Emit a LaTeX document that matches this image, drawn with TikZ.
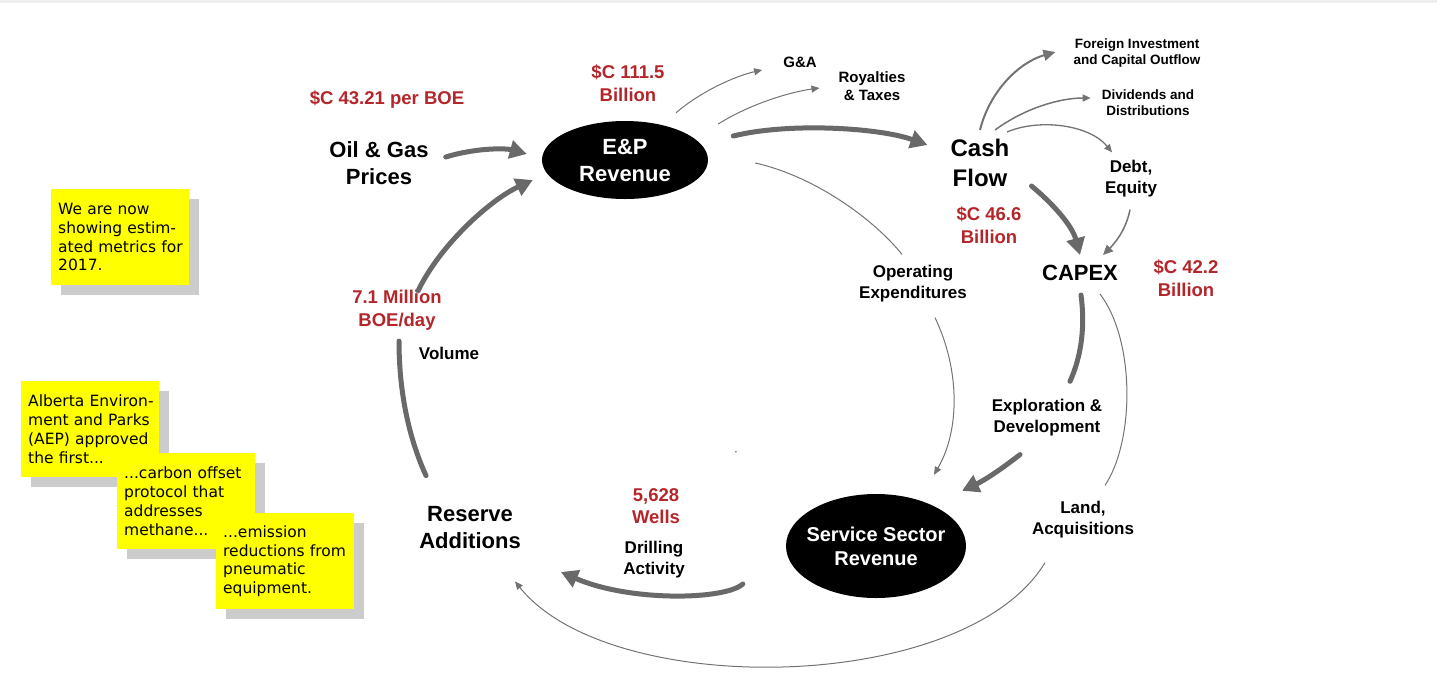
\documentclass[tikz,border=0pt]{standalone}
\usepackage{fontspec}
\setmainfont{Liberation Sans}
\newfontfamily\notefont{DejaVu Sans}
\usepackage{tikz}
\usetikzlibrary{arrows.meta, shapes.geometric, shadows}
\definecolor{flowgray}{RGB}{105,105,105}
\definecolor{leakgray}{RGB}{115,115,115}
\definecolor{valred}{RGB}{180,38,42}
\definecolor{noteyellow}{RGB}{255,255,0}
\definecolor{shadegray}{RGB}{204,204,204}
\definecolor{bandgray}{RGB}{238,238,238}
\tikzset{
  big/.style={font=\bfseries\fontsize{22}{27}\selectfont, align=center, inner sep=1pt},
  lbl/.style={font=\bfseries\fontsize{17}{21}\selectfont, align=center, inner sep=1pt},
  sml/.style={font=\bfseries\fontsize{15}{18}\selectfont, align=center, inner sep=1pt},
  tny/.style={font=\bfseries\fontsize{13.5}{16}\selectfont, align=center, inner sep=1pt},
  val/.style={font=\bfseries\fontsize{18.5}{22.5}\selectfont, text=valred, align=center, inner sep=1pt},
  blob/.style={ellipse, fill=black, text=white, align=center, inner sep=-12pt},
  note/.style={anchor=north west, fill=noteyellow, text width=130pt, inner xsep=4pt,
    minimum height=96pt, align=left, font=\notefont\fontsize{15.5}{18.7}\selectfont,
    drop shadow={shadow xshift=10pt, shadow yshift=-10pt, fill=shadegray, opacity=1}},
  flow/.style={draw=flowgray, line width=5pt, line cap=round, -{Triangle[length=17pt, width=18pt]}},
  flowend/.style={draw=flowgray, line width=5pt, line cap=round},
  leak/.style={draw=leakgray, line width=1pt, -{Triangle[length=8pt, width=7pt]}},
  leakend/.style={draw=leakgray, line width=1pt},
}

\begin{document}
\begin{tikzpicture}[x=1pt, y=1pt]
  \useasboundingbox (0,0) rectangle (1437,-673);
  \fill[bandgray] (0,0) rectangle (1437,-3);

  % notes
  \node[note] (n1) at (51,-189) {\hspace{3pt}We are now\\\hspace{3pt}showing estim-\\\hspace{3pt}ated metrics for\\\hspace{3pt}2017.};
  \node[note] (n2) at (21,-381) {\hspace{3pt}Alberta Environ-\\\hspace{3pt}ment and Parks\\\hspace{3pt}(AEP) approved\\\hspace{3pt}the first...};
  \node[note] (n3) at (117,-453) {\hspace{3pt}...carbon offset\\\hspace{3pt}protocol that\\\hspace{3pt}addresses\\\hspace{3pt}methane...};
  \node[note] (n4) at (216,-513) {\hspace{3pt}...emission\\\hspace{3pt}reductions from\\\hspace{3pt}pneumatic\\\hspace{3pt}equipment.};

  % main cycle
  \node[big] (price) at (379,-163) {Oil \& Gas\\Prices};
  \node[blob, minimum width=166pt, minimum height=78pt, font=\bfseries\fontsize{22}{27}\selectfont] (ep) at (625,-160) {E\&P\\Revenue};
  \node[big, font=\bfseries\fontsize{24}{30}\selectfont] (cf) at (980,-163) {Cash\\Flow};
  \node[big] (capex) at (1080,-273) {CAPEX};
  \node[blob, minimum width=180pt, minimum height=104pt, font=\bfseries\fontsize{20}{24}\selectfont] (svc) at (876,-546) {Service Sector\\Revenue};
  \node[big] (rsv) at (470,-528) {Reserve\\Additions};

  \node[sml] (ga) at (800,-62) {G\&A};
  \node[sml] (roy) at (872,-86) {Royalties\\\& Taxes};
  \node[tny] (fdi) at (1137,-53) {Foreign Investment\\and Capital Outflow};
  \node[tny] (div) at (1148,-103) {Dividends and\\Distributions};
  \node[lbl] (debt) at (1131,-179) {Debt,\\Equity};
  \node[lbl] (opex) at (913,-284) {Operating\\Expenditures};
  \node[lbl] (expl) at (1047,-418) {Exploration \&\\Development};
  \node[lbl] (land) at (1083,-520) {Land,\\Acquisitions};
  \node[lbl] (drill) at (654,-560) {Drilling\\Activity};
  \node[lbl] (vol) at (449,-353) {Volume};
  \node[font=\fontsize{8}{8}\selectfont, inner sep=0pt] (dash) at (736,-453) {-};

  \node[val] (vboe) at (387,-100) {\$C 43.21 per BOE};
  \node[val] (vrev) at (628,-83) {\$C 111.5\\Billion};
  \node[val] (vcf) at (989,-225) {\$C 46.6\\Billion};
  \node[val] (vcap) at (1186,-278) {\$C 42.2\\Billion};
  \node[val] (vwell) at (656,-506) {5,628\\Wells};
  \node[val] (vprod) at (397,-310) {7.1 Million\\BOE/day};

  % heavy flows
  \draw[flow] ([shift={(16,6)}]price.east) .. controls (475,-148) and (505,-148) .. ([shift={(-15,6)}]ep.west);
  \draw[flow] ([shift={(25,24)}]ep.east) .. controls (790,-122) and (880,-128) .. ([shift={(-22,18)}]cf.west);
  \draw[flow] ([shift={(21,-23)}]cf.east) .. controls (1052,-203) and (1072,-225) .. ([shift={(0,9)}]capex.north);
  \draw[flowend] ([shift={(1,-13)}]capex.south) .. controls (1085,-325) and (1082,-355) .. ([shift={(23,17)}]expl.north);
  \draw[flow] ([shift={(-27,-17)}]expl.south) .. controls (1000,-470) and (985,-480) .. ([shift={(86,3)}]svc.north);
  \draw[flow] ([shift={(-43,-38)}]svc.west) .. controls (725,-600) and (630,-602) .. ([shift={(39,-44)}]rsv.east);
  \draw[flowend] ([shift={(-44,30)}]rsv.north) .. controls (412,-445) and (399,-400) .. ([shift={(2,-10)}]vprod.south);
  \draw[flow] ([shift={(21,-2)}]vprod.north) .. controls (440,-245) and (490,-200) .. ([shift={(-9,-20)}]ep.west);

  % leaks
  \draw[leak] ([shift={(51,8)}]ep.north) .. controls (700,-92) and (735,-76) .. ([shift={(-20,-8)}]ga.west);
  \draw[leak] ([shift={(10,36)}]ep.east) .. controls (750,-104) and (790,-92) .. ([shift={(-18,-2)}]roy.west);
  \draw[leakend] ([shift={(47,-3)}]ep.east) .. controls (810,-175) and (870,-215) .. ([shift={(-11,10)}]opex.north);
  \draw[leak] ([shift={(22,-14)}]opex.south) .. controls (960,-370) and (960,-430) .. ([shift={(58,19)}]svc.north);
  \draw[leak, line width=2pt, -{Triangle[length=12pt, width=11pt]}] ([shift={(0,8)}]cf.north) .. controls (990,-90) and (1020,-62) .. ([shift={(-17,1)}]fdi.west);
  \draw[leak, line width=1.5pt] ([shift={(15,8)}]cf.north) .. controls (1025,-108) and (1060,-98) .. ([shift={(-10,5)}]div.west);
  \draw[leak, line width=1.3pt] ([shift={(27,6)}]cf.north) .. controls (1040,-118) and (1090,-125) .. ([shift={(-19,7)}]debt.north);
  \draw[leak, line width=1.5pt, -{Triangle[length=10pt, width=9pt]}] ([shift={(-1,-11)}]debt.south) .. controls (1126,-230) and (1115,-243) .. ([shift={(23,9)}]capex.north);
  \draw[leakend] ([shift={(20,-12)}]capex.south) .. controls (1135,-340) and (1135,-440) .. ([shift={(22,15)}]land.north);
  \draw[leak] ([shift={(-38,-23)}]land.south) .. controls (965,-695) and (610,-700) .. ([shift={(45,-31)}]rsv.south);
\end{tikzpicture}
\end{document}
